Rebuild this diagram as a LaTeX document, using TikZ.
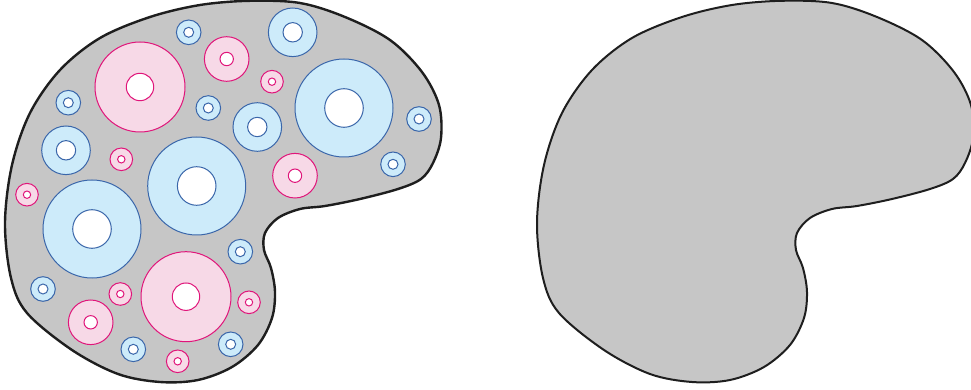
\documentclass[tikz,border=0pt]{standalone}
\definecolor{blobgray}{HTML}{C6C6C6}
\definecolor{blobline}{HTML}{1E1E1E}
\definecolor{ringblue}{HTML}{CDEBFA}
\definecolor{edgeblue}{HTML}{3A66AA}
\definecolor{ringpink}{HTML}{F7D9E7}
\definecolor{edgepink}{HTML}{E0157A}
\begin{document}
\begin{tikzpicture}[x=0.5pt, y=-0.5pt,
  blob/.style={fill=blobgray, draw=blobline},
  bluering/.style={fill=ringblue, draw=edgeblue, line width=0.5pt},
  pinkring/.style={fill=ringpink, draw=edgepink, line width=0.5pt},
  hole/.style={fill=white}]
\clip (0,0) rectangle (971,390);
% the two blobs, same outline, right one shifted
\foreach \dx/\lw in {0/1.2pt, 532/1pt} {
  \draw[blob, line width=\lw, shift={(\dx,0)}] plot[smooth cycle, tension=0.55] coordinates {
    (5,223) (12,165) (30,113) (60,70) (100,38) (150,17) (200,5) (250,0.8)
    (300,3) (345,17) (390,40) (422,72) (439,105) (441,138) (433,163) (421,179)
    (398,189) (360,199) (325,206) (300,209) (278,218) (265,233) (264,250) (271,268)
    (275,292) (272,318) (258,345) (232,367) (198,380) (160,382) (118,374)
    (72,350) (27,313) (11,278)};
}
% blue rings
\foreach \cx/\cy/\R/\r in {188.7/32.3/12.3/5, 292.7/32.3/24.3/9.7, 344/108/49/19.3,
    68.3/102.7/12.3/5, 208.3/108/12.3/5, 257.3/127/24.3/9.7, 419/119/12.3/5,
    66/150.3/24.3/9.7, 196.7/186/49/19.3, 393/164.3/12.3/5, 92/229/49/19.3,
    240.3/251.7/12.3/5, 43/289/12.3/5, 230.7/344.3/12.3/5, 133.3/349.3/12.3/5} {
  \draw[bluering] (\cx,\cy) circle[radius=\R];
  \draw[bluering, hole] (\cx,\cy) circle[radius=\r];
}
% pink rings
\foreach \cx/\cy/\R/\r in {226.7/59/22.3/6.7, 140/87/45/13.7, 272/81.7/11.3/3.7,
    121.3/159.3/11.3/3.7, 295/175.7/22.3/6.7, 27/194.7/11.3/3.7,
    120.3/294/11.3/3.7, 186/296.7/45/13.7, 249/302.3/11.3/3.7,
    90.7/322.3/22.3/6.7, 177.7/361.3/11.3/3.7} {
  \draw[pinkring] (\cx,\cy) circle[radius=\R];
  \draw[pinkring, hole] (\cx,\cy) circle[radius=\r];
}
\end{tikzpicture}
\end{document}
